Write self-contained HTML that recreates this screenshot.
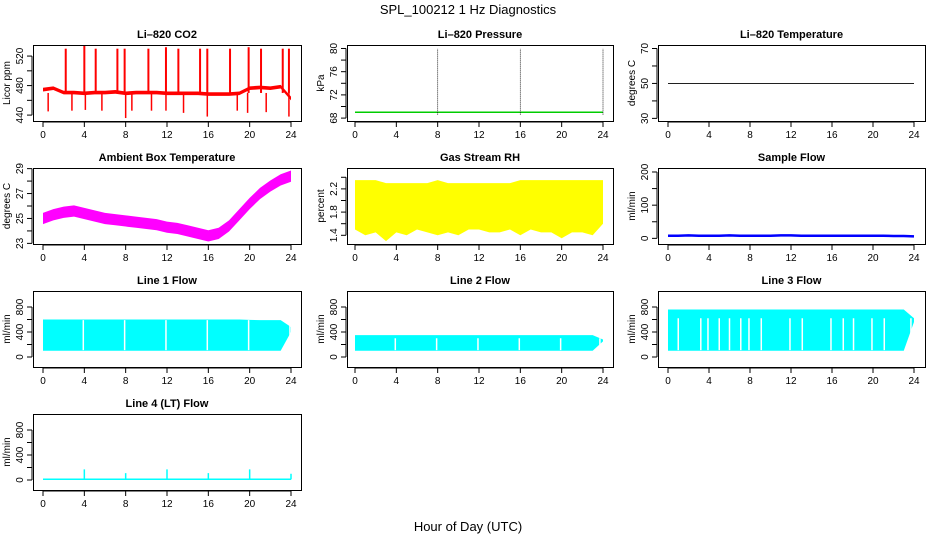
<!DOCTYPE html>
<html><head><meta charset="utf-8">
<style>
body{margin:0;background:#fff;}
svg{display:block;font-family:"Liberation Sans",sans-serif;}
</style></head>
<body>
<svg id="chart" width="936" height="540" viewBox="0 0 936 540">
<text x="468" y="14" font-size="13" text-anchor="middle">SPL_100212  1 Hz Diagnostics</text>
<text x="468" y="531" font-size="13" text-anchor="middle">Hour of Day (UTC)</text>
</svg>
<script>
// ---- data ----
const hours = [0,1,2,3,4,5,6,7,8,9,10,11,12,13,14,15,16,17,18,19,20,21,22,23,24];
const co2Mid = [474,476,470,470,469,470,470,471,469,470,470,470,469,469,469,469,468,468,468,469,476,477,476,478,462];
const co2SpikeT = [2.2,4.0,5.1,7.2,7.9,10.2,11.9,13.1,15.2,15.9,18.1,19.9,21.1,23.2,23.8];
const co2SpikeV = [530,534,530,530,530,530,532,530,530,530,530,532,530,530,530];
const co2DipT = [0.5,2.8,4.1,5.7,8.0,8.6,10.5,11.9,13.6,15.9,18.8,19.8,21.6,23.8];
const co2DipV = [445,446,447,446,436,446,446,446,443,438,446,443,444,438];
const pressureMid = [69.0,69.0,69.0,69.0,69.0,69.0,69.0,69.0,69.0,69.0,69.0,69.0,69.0,69.0,69.0,69.0,69.0,69.0,69.0,69.0,69.0,69.0,69.0,69.0,69.0];
const pressureSpikeT = [8,16,24];
const tempMid = [50,50,50,50,50,50,50,50,50,50,50,50,50,50,50,50,50,50,50,50,50,50,50,50,50];
const ambientMid = [25.0,25.3,25.5,25.6,25.4,25.2,25.0,24.9,24.8,24.7,24.6,24.5,24.3,24.2,24.0,23.8,23.6,23.8,24.4,25.3,26.2,27.0,27.6,28.1,28.4];
const rhHi = [2.35,2.35,2.35,2.3,2.3,2.3,2.3,2.3,2.35,2.3,2.3,2.3,2.3,2.3,2.3,2.3,2.35,2.35,2.35,2.35,2.35,2.35,2.35,2.35,2.35];
const rhLo = [1.5,1.4,1.45,1.3,1.45,1.4,1.5,1.45,1.4,1.45,1.4,1.5,1.5,1.45,1.45,1.5,1.4,1.5,1.45,1.45,1.35,1.45,1.45,1.4,1.6];
const sampleMid = [8,8,9,8,8,8,9,8,8,8,8,9,9,8,8,8,8,8,8,8,8,8,7,7,6];
const line1Hi = [600,600,600,600,600,600,600,600,600,600,600,600,600,600,600,600,600,600,600,600,595,590,590,590,480];
const line1Lo = [100,100,100,100,100,100,100,100,100,100,100,100,100,100,100,100,100,100,100,100,100,100,100,100,400];
const line1Gaps = [3.9,7.9,11.9,15.9,19.9,23.9];
const line2Hi = [350,350,350,350,350,350,350,350,350,350,350,350,350,350,350,350,350,350,350,350,350,350,350,350,280];
const line2Lo = [100,100,100,100,100,100,100,100,100,100,100,100,100,100,100,100,100,100,100,100,100,100,100,100,250];
const line2Gaps = [3.9,7.9,11.9,15.9,19.9,23.7];
const line3Hi = [760,760,760,760,760,760,760,760,760,760,760,760,760,760,760,760,760,760,760,760,760,760,760,760,620];
const line3Lo = [100,100,100,100,100,100,100,100,100,100,100,100,100,100,100,100,100,100,100,100,100,100,100,100,560];
const line3Gaps = [1.0,3.2,3.9,5.0,6.0,7.1,7.9,9.1,11.9,13.1,15.9,17.1,18.1,19.9,21.1,23.7];
const line4Mid = [10,10,10,10,10,10,10,10,10,10,10,10,10,10,10,10,10,10,10,10,10,10,10,10,10];
const line4SpikeT = [4,8,12,16,20,24];
const line4SpikeV = [170,110,170,110,170,100];
const xTicks = [0,4,8,12,16,20,24];

const svg = document.getElementById('chart');
const NS = 'http://www.w3.org/2000/svg';
function mk(tag, attrs, parent){const e=document.createElementNS(NS,tag);for(const k in attrs)e.setAttribute(k,attrs[k]);(parent||svg).appendChild(e);return e;}

const cols = [{bx0:33,bx1:301,px0:43,px1:291},{bx0:347,bx1:613,px0:355,px1:603},{bx0:658,bx1:925,px0:668,px1:914}];
const rows = [{by0:45,by1:121},{by0:168,by1:244},{by0:291,by1:367},{by0:414,by1:490}];

function panel(name,title,r,c,ymin,ymax,ticks,labels,ylab,draw){
  const C=cols[c],R=rows[r];
  const g=mk('g',{});
  
  
  const X=v=>C.px0+(v/24)*(C.px1-C.px0);
  const Y=v=>R.by1-(v-ymin)/(ymax-ymin)*(R.by1-R.by0);
  const clip=mk('clipPath',{id:'clip-'+name},g);
  mk('rect',{x:C.bx0,y:R.by0,width:C.bx1-C.bx0,height:R.by1-R.by0},clip);
  const d=mk('g',{'clip-path':'url(#clip-'+name+')'},g);
  
  
  draw(d,X,Y);
  const box=mk('rect',{x:C.bx0+.5,y:R.by0+.5,width:C.bx1-C.bx0,height:R.by1-R.by0,fill:'none',stroke:'#000','stroke-width':1},g);
  
  
  const t=mk('text',{x:(C.bx0+C.bx1)/2,y:R.by0-7,'font-size':11,'font-weight':'bold','text-anchor':'middle'},g);
  t.textContent=title;
  
  
  xTicks.forEach(v=>{
    mk('line',{x1:X(v),x2:X(v),y1:R.by1+1,y2:R.by1+6,stroke:'#000'},g);
    const l=mk('text',{x:X(v),y:R.by1+17,'font-size':10,'text-anchor':'middle'},g);
    l.textContent=v;
    
    
  });
  mk('line',{x1:X(0),x2:X(24),y1:R.by1+1,y2:R.by1+1,stroke:'#000'},g);
  mk('line',{x1:C.bx0-1,x2:C.bx0-1,y1:Y(ticks[0]),y2:Y(ticks[ticks.length-1]),stroke:'#000'},g);
  ticks.forEach((v,i)=>{
    mk('line',{x1:C.bx0-6,x2:C.bx0-1,y1:Y(v),y2:Y(v),stroke:'#000'},g);
    if(labels[i]!==''){
      const l=mk('text',{x:0,y:0,'font-size':10,'text-anchor':'middle',transform:`translate(${C.bx0-10},${Y(v)}) rotate(-90)`},g);
      l.textContent=labels[i];
      
      
    }
  });
  const yl=mk('text',{x:0,y:0,'font-size':10,'text-anchor':'middle',transform:`translate(${C.bx0-23},${(R.by0+R.by1)/2}) rotate(-90)`},g);
  yl.textContent=ylab;
  
  
}
function band(g,X,Y,hi,lo,color){
  let pts=hours.map((h,i)=>X(h)+','+Y(hi[i]));
  pts=pts.concat(hours.slice().reverse().map((h,j)=>X(h)+','+Y(lo[hours.length-1-j])));
  const p=mk('polygon',{points:pts.join(' '),fill:color},g);
  
  
}
function line(g,X,Y,vals,color,w){
  const p=mk('polyline',{points:hours.map((h,i)=>X(h)+','+Y(vals[i])).join(' '),fill:'none',stroke:color,'stroke-width':w},g);
  
  
}
function gaps(g,X,Y,ts,y0,y1){
  ts.forEach(t=>{
    const e=mk('line',{x1:X(t),x2:X(t),y1:Y(y0),y2:Y(y1),stroke:'#fff','stroke-width':1.5},g);
    
    
  });
}

panel('co2','Li\u2013820 CO2',0,0,432,535,[440,460,480,500,520],['440','','480','','520'],'Licor ppm',(g,X,Y)=>{
  band(g,X,Y,co2Mid.map(v=>v+3),co2Mid.map(v=>v-2),'#f00');
  co2SpikeT.forEach((t,i)=>{const e=mk('line',{x1:X(t),x2:X(t),y1:Y(470),y2:Y(co2SpikeV[i]),stroke:'#f00','stroke-width':2},g);
    });
  co2DipT.forEach((t,i)=>{const e=mk('line',{x1:X(t),x2:X(t),y1:Y(470),y2:Y(co2DipV[i]),stroke:'#f00','stroke-width':1.5},g);
    });
});
panel('pressure','Li\u2013820 Pressure',0,1,67.5,80.6,[68,70,72,74,76,78,80],['68','','72','','76','','80'],'kPa',(g,X,Y)=>{
  line(g,X,Y,pressureMid,'#0c0',1.5);
  pressureSpikeT.forEach(t=>{const e=mk('line',{x1:X(t),x2:X(t),y1:Y(68.6),y2:Y(80),stroke:'#000','stroke-width':0.8,'stroke-dasharray':'1,1'},g);
    });
});
panel('temperature','Li\u2013820 Temperature',0,2,28.5,72,[30,40,50,60,70],['30','','50','','70'],'degrees C',(g,X,Y)=>{
  line(g,X,Y,tempMid,'#000',0.8);
});
panel('ambient','Ambient Box Temperature',1,0,22.95,29.05,[23,24,25,26,27,28,29],['23','','25','','27','','29'],'degrees C',(g,X,Y)=>{
  band(g,X,Y,ambientMid.map(v=>v+0.45),ambientMid.map(v=>v-0.45),'#f0f');
});
panel('rh','Gas Stream RH',1,1,1.25,2.56,[1.4,1.6,1.8,2.0,2.2,2.4],['1.4','','1.8','','2.2',''],'percent',(g,X,Y)=>{
  band(g,X,Y,rhHi,rhLo,'#ff0');
});
panel('sample','Sample Flow',1,2,-17,212,[0,50,100,150,200],['0','','100','','200'],'ml/min',(g,X,Y)=>{
  line(g,X,Y,sampleMid,'#00f',2.5);
});
panel('line1','Line 1 Flow',2,0,-160,1056,[0,200,400,600,800],['0','','400','','800'],'ml/min',(g,X,Y)=>{
  band(g,X,Y,line1Hi,line1Lo,'#0ff');gaps(g,X,Y,line1Gaps,110,590);
});
panel('line2','Line 2 Flow',2,1,-160,1056,[0,200,400,600,800],['0','','400','','800'],'ml/min',(g,X,Y)=>{
  band(g,X,Y,line2Hi,line2Lo,'#0ff');gaps(g,X,Y,line2Gaps,110,300);
});
panel('line3','Line 3 Flow',2,2,-160,1056,[0,200,400,600,800],['0','','400','','800'],'ml/min',(g,X,Y)=>{
  band(g,X,Y,line3Hi,line3Lo,'#0ff');gaps(g,X,Y,line3Gaps,110,620);
});
panel('line4','Line 4 (LT) Flow',3,0,-160,1056,[0,200,400,600,800],['0','','400','','800'],'ml/min',(g,X,Y)=>{
  band(g,X,Y,line4Mid.map(v=>v+15),line4Mid.map(v=>v-10),'#0ff');
  line4SpikeT.forEach((t,i)=>{const e=mk('line',{x1:X(t),x2:X(t),y1:Y(10),y2:Y(line4SpikeV[i]),stroke:'#0ff','stroke-width':1.5},g);
    });
});
</script>
</body></html>
